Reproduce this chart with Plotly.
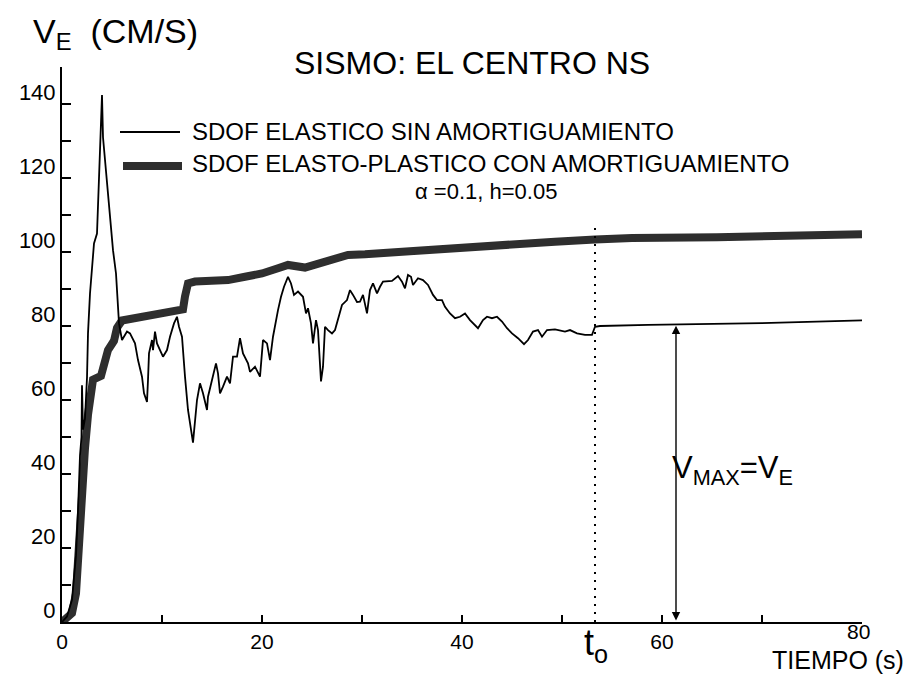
import plotly.graph_objects as go

# ---------------- data ----------------
t_thin = [0, 0.5, 1.0, 1.4, 1.6, 1.8, 1.95, 2.0, 2.1, 2.3, 2.5, 2.6, 2.8, 3.0, 3.2, 3.5, 3.6, 3.8, 3.9, 4.0,
          4.1, 4.3, 4.5, 4.8, 5.1, 5.4, 5.6, 5.7, 6.0, 6.5, 6.8, 7.3, 7.6, 8.0, 8.2, 8.5, 8.6, 8.7, 9.0, 9.1,
          9.3, 9.5, 9.8, 10.1, 10.5, 10.8, 11.2, 11.5, 11.7, 12.0, 12.3, 12.6, 13.1, 13.5, 13.8, 14.1, 14.5, 14.6,
          15.0, 15.4, 15.6, 15.8, 16.1, 16.5, 16.8, 17.1, 17.5, 17.8, 18.1, 18.6, 18.8, 19.3, 19.8, 20.1, 20.5,
          20.8, 21.1, 21.3, 21.6, 21.9, 22.2, 22.6, 22.9, 23.2, 23.6, 24.1, 24.4, 24.6, 24.9, 25.1, 25.4, 25.6,
          25.9, 26.1, 26.3, 26.6, 27.0, 27.3, 27.6, 28.0, 28.5, 28.8, 29.1, 29.5, 29.8, 30.1, 30.5, 30.8, 31.1,
          31.5, 31.8, 32.1, 33.0, 33.6, 34.0, 34.3, 34.6, 34.9, 35.1, 35.6, 36.1, 36.6, 37.1, 37.5, 38.0, 38.3,
          38.8, 39.3, 39.8, 40.3, 40.8, 41.1, 41.6, 42.1, 42.5, 43.0, 43.5, 44.0, 44.5, 45.0, 45.6, 46.2, 46.6,
          47.1, 47.6, 48.0, 48.5, 49.3, 50.3, 50.8, 51.5, 52.3, 53.0, 53.3, 53.8, 58.6, 70.0, 80.0]
v_thin = [0, 1.5, 6, 18, 30, 45, 50, 64, 52, 55, 66, 78, 88.8, 96, 102.3, 105, 113, 126.7, 134, 142.4,
          131, 125, 117.6, 108.6, 100.5, 94.2, 87, 80.7, 76.2, 78.5, 78, 75.3, 70.8, 66.3, 61.8, 59.5, 65.4, 72.6, 76.2, 73.5,
          78.5, 75.3, 73.5, 71.7, 73.5, 77.1, 80.7, 82.5, 79.8, 77.1, 66.3, 57.3, 48.5, 60, 64.5, 61.8, 57.3, 60.9,
          65.4, 69.9, 67.2, 61.8, 63.6, 66.3, 64.5, 71.7, 71.7, 76.7, 72.6, 69.9, 67.6, 69, 66.3, 76.2, 75.3,
          70.8, 77.1, 80.3, 84.3, 87.9, 90.6, 93.3, 91.5, 88.4, 89.3, 87.9, 83.4, 84.8, 80.7, 75.3, 81.6, 78.9,
          65, 69, 79.8, 78.9, 78, 78.9, 81.6, 85.7, 87, 89.7, 88.4, 86.5, 86.6, 88.4, 83.4, 89.7, 91.5,
          88.8, 90.6, 92, 92.2, 93.5, 92, 90.2, 93.8, 93.3, 91.1, 92.9, 92.4, 91.1, 88.4, 87, 87, 85.2,
          83.4, 82.1, 82.5, 83.4, 81.6, 80.7, 79.4, 81.6, 82.5, 82.1, 82.5, 81.2, 79.4, 78, 76.7, 75.1, 76.2,
          78.5, 78.9, 77.1, 78.9, 79.1, 78.5, 78.9, 78, 77.6, 77.6, 79.8, 80, 80.3, 80.8, 81.5]

t_thick = [0, 0.5, 1.0, 1.4, 1.5, 1.8, 2.0, 2.1, 2.3, 2.6, 2.9, 3.1, 3.9, 4.2, 4.6, 5.2, 5.5, 6.0, 9.0, 12.1,
           12.3, 12.6, 13.3, 15.0, 16.6, 18.3, 20.0, 21.6, 22.6, 24.3, 26.0, 27.3, 28.6, 30.3, 36.0, 42.6, 49.3,
           53.3, 57.0, 65.5, 80.0]
v_thick = [0, 1, 2.4, 7.7, 13, 20, 29, 38, 47, 56, 63, 65.5, 66.5, 69, 73.5, 76, 79.5, 81.5, 83, 84.5,
           88, 91.5, 92, 92, 92.4, 93.3, 94.2, 95.6, 96.5, 95.8, 97, 98.3, 99.2, 99.4, 100.5, 101.9, 102.8,
           103.4, 103.8, 104, 104.8]

x_tick_vals = [0, 10, 20, 30, 40, 50, 60, 70, 80]
x_tick_text = ['0', '', '20', '', '40', '', '60', '', '']   # '80' is written higher, as in the scan
y_tick_labels = ['0', '20', '40', '60', '80', '100', '120', '140']
y_label_values = [0, 20, 40, 60, 80, 100, 120, 140]

t_o = 53.3          # time of end of record (dotted line)
t_arrow = 61.4      # position of the V_MAX = V_E arrow
v_arrow_top = 80.5

# ---------------- figure ----------------
FONT = "Arial, Liberation Sans, sans-serif"
ylabel_offset = 3.2   # labels in the scanned figure sit a little above their ticks

fig = go.Figure()
fig.add_trace(go.Scatter(x=t_thick, y=v_thick, mode='lines',
                         line=dict(color='#2e2e2e', width=8), showlegend=False, hoverinfo='skip'))
fig.add_trace(go.Scatter(x=t_thin, y=v_thin, mode='lines',
                         line=dict(color='black', width=1.8), showlegend=False))

L, R, T, B = 62, 50, 67, 55
W, H = 912, 677
pw, ph = W - L - R, H - T - B


def px(xp):
    return (xp - L) / pw


def py(yp):
    return (H - B - yp) / ph


fig.update_layout(
    width=W, height=H, autosize=False,
    margin=dict(l=L, r=R, t=T, b=B, pad=0),
    paper_bgcolor='white', plot_bgcolor='white',
    font=dict(family=FONT, color='black'),
    xaxis=dict(range=[0, 80], showline=True, linecolor='black', linewidth=2,
               showgrid=False, zeroline=False,
               tickvals=x_tick_vals, ticktext=x_tick_text,
               ticks='inside', ticklen=7, tickwidth=1.5, tickcolor='black',
               tickfont=dict(size=21, family=FONT)),
    yaxis=dict(range=[0, 150], showline=True, linecolor='black', linewidth=2,
               showgrid=False, zeroline=False,
               tickvals=[v + ylabel_offset for v in y_label_values], ticktext=y_tick_labels,
               ticks='inside', ticklen=0, tickwidth=0.1, tickcolor='white',
               minor=dict(tickmode='linear', ticks='inside', ticklen=9, tickwidth=1.5,
                          tick0=0, dtick=10, tickcolor='black'),
               tickfont=dict(size=22, family=FONT)),
)

# dotted line at t_o
fig.add_shape(type='line', xref='x', yref='y', x0=t_o, x1=t_o, y0=0, y1=107,
              line=dict(color='black', width=2, dash='2px,6px'))

# double-headed arrow V_MAX = V_E
fig.add_annotation(x=t_arrow, y=0.4, ax=t_arrow, ay=v_arrow_top, xref='x', yref='y',
                   axref='x', ayref='y', text='', showarrow=True, arrowhead=2, startarrowhead=2,
                   arrowside='end+start', arrowsize=1.2, startarrowsize=1.2, arrowwidth=1.4,
                   arrowcolor='black')

# legend samples
fig.add_shape(type='line', xref='paper', yref='paper', x0=px(120), x1=px(180), y0=py(132), y1=py(132),
              line=dict(color='black', width=2))
fig.add_shape(type='line', xref='paper', yref='paper', x0=px(123), x1=px(182), y0=py(166), y1=py(166),
              line=dict(color='#2e2e2e', width=8))


def text(s, x, y, size, xanchor='left', yanchor='middle'):
    fig.add_annotation(text=s, x=px(x), y=py(y), xref='paper', yref='paper', showarrow=False,
                       xanchor=xanchor, yanchor=yanchor, font=dict(size=size, family=FONT, color='black'))


text('V<sub>E</sub>  (CM/S)', 31, 34, 34)
text('SISMO: EL CENTRO NS', 472, 63, 32, xanchor='center')
text('SDOF ELASTICO SIN AMORTIGUAMIENTO', 190, 131, 24)
text('SDOF ELASTO-PLASTICO CON AMORTIGUAMIENTO', 190, 163, 24)
text('α =0.1, h=0.05', 486, 191, 22, xanchor='center')
text('V<sub>MAX</sub>=V<sub>E</sub>', 670, 470, 31)
text('t<sub>o</sub>', 582, 645, 36)
text('80', 858, 631, 21, xanchor='center')
text('TIEMPO (s)', 906, 676, 25, xanchor='right', yanchor='bottom')

fig.write_html("out.html")
